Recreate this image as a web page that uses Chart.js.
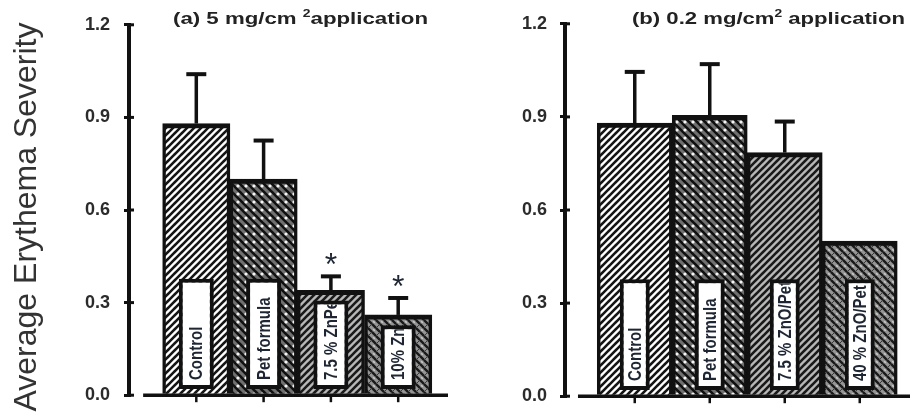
<!DOCTYPE html>
<html><head><meta charset="utf-8">
<script src="https://cdn.jsdelivr.net/npm/chart.js@4.4.1/dist/chart.umd.min.js"></script>
<style>
html,body{margin:0;padding:0;background:#fff;}
#wrap{position:relative;width:910px;height:420px;overflow:hidden;background:#fff;}
canvas{position:absolute;top:0;}
#cL{left:0;} #cR{left:455px;}
</style></head><body>
<div id="wrap"><canvas id="cL" width="455" height="420"></canvas><canvas id="cR" width="455" height="420"></canvas></div>
<script>
// ---- data ----
const categoriesA = ['Control', 'Pet formula', '7.5 % ZnPet', '10% ZnPet'];
const categoriesB = ['Control', 'Pet formula', '7.5 % ZnO/Pet', '40 % ZnO/Pet'];
const positions = [1, 2, 3, 4];
const severityA = [0.88, 0.70, 0.34, 0.26];
const errorA = [0.16, 0.125, 0.045, 0.055];
const marksA = ['', '', '*', '*'];
const severityB = [0.88, 0.905, 0.785, 0.50];
const errorB = [0.165, 0.165, 0.10, 0];
const marksB = ['', '', '', ''];
const yTicks = [0, 0.3, 0.6, 0.9, 1.2];
const titleA = ['(a) 5 mg/cm ', '2', 'application'];
const titleB = ['(b) 0.2 mg/cm', '2', ' application'];
const yLabel = 'Average Erythema Severity';

Chart.defaults.font.family = "'Liberation Sans', Arial, sans-serif";

function makePattern(s, bg, lines, dots) {
  const c = document.createElement('canvas');
  c.width = s; c.height = s;
  const g = c.getContext('2d');
  g.fillStyle = bg; g.fillRect(0, 0, s, s);
  lines.forEach(l => {
    g.strokeStyle = l.color; g.lineWidth = l.w; g.lineCap = 'square';
    g.beginPath();
    for (const k of [-s, 0, s]) {
      if (l.dir === '/') { g.moveTo(k, s); g.lineTo(k + s, 0); }
      else { g.moveTo(k, 0); g.lineTo(k + s, s); }
    }
    g.stroke();
  });
  if (dots) {
    g.fillStyle = dots.color;
    dots.at.forEach(p => { g.beginPath(); g.arc(p[0], p[1], dots.r, 0, Math.PI * 2); g.fill(); });
  }
  return g.createPattern(c, 'repeat');
}
const patterns = [
  makePattern(7, '#ffffff', [{dir: '/', color: '#151515', w: 2.6}]),
  makePattern(8, '#707070', [{dir: '\\', color: '#101010', w: 2.6}], {color: '#f4f4f4', r: 1.6, at: [[6, 2]]}),
  makePattern(7, '#b8b8b8', [{dir: '/', color: '#1a1a1a', w: 2.6}]),
  makePattern(8, '#959595', [{dir: '\\', color: '#1a1a1a', w: 2.4}, {dir: '/', color: '#3a3a3a', w: 1.0}], {color: '#d0d0d0', r: 1.1, at: [[6, 2]]})
];

function drawTitle(ctx, parts, x, baseline, targetW) {
  const F = "bold 16px 'Liberation Sans', Arial, sans-serif";
  const FS = "bold 10px 'Liberation Sans', Arial, sans-serif";
  let w = 0;
  const ws = parts.map((t, i) => { ctx.font = i === 1 ? FS : F; const m = ctx.measureText(t).width; w += m; return m; });
  ctx.save();
  ctx.translate(x, baseline);
  ctx.scale(targetW / w, 1);
  ctx.fillStyle = '#222';
  ctx.textAlign = 'left'; ctx.textBaseline = 'alphabetic';
  let cx = 0;
  parts.forEach((t, i) => { ctx.font = i === 1 ? FS : F; ctx.fillText(t, cx, i === 1 ? -7 : 0); cx += ws[i]; });
  ctx.restore();
}

function makeChart(id, cfg) {
  const boxTop = cfg.vals.map(v => Math.min(0.377, v - 0.033));
  const decor = {
    id: 'decor',
    afterDatasetsDraw(chart) {
      const ctx = chart.ctx, ys = chart.scales.y, xs = chart.scales.x, ca = chart.chartArea;
      const boxes = chart.getDatasetMeta(0).data;
      const bars = chart.getDatasetMeta(1).data;
      ctx.save();
      // labels inside boxes
      boxes.forEach((el, i) => {
        const bw = 4;
        const l = el.x - el.width / 2 + bw, r = el.x + el.width / 2 - bw;
        const t = el.y + bw, b = el.base - bw;
        ctx.save();
        ctx.beginPath(); ctx.rect(l, t, r - l, b - t); ctx.clip();
        ctx.translate(el.x + 1, b - 5); ctx.rotate(-Math.PI / 2); ctx.scale(1, 1.25);
        ctx.font = "bold 15px 'Liberation Sans', Arial, sans-serif";
        ctx.fillStyle = '#1f2633'; ctx.textAlign = 'left'; ctx.textBaseline = 'middle';
        ctx.fillText(cfg.cats[i], 0, 0);
        ctx.restore();
      });
      // error bars and marks
      ctx.strokeStyle = '#111';
      bars.forEach((el, i) => {
        const e = cfg.errs[i];
        if (!e) return;
        const yTop = ys.getPixelForValue(cfg.vals[i] + e);
        ctx.lineWidth = 3.5; ctx.lineCap = 'butt';
        ctx.beginPath(); ctx.moveTo(el.x, el.y); ctx.lineTo(el.x, yTop); ctx.stroke();
        ctx.lineWidth = 4;
        ctx.beginPath(); ctx.moveTo(el.x - 10, yTop); ctx.lineTo(el.x + 10, yTop); ctx.stroke();
        if (cfg.marks[i]) {
          ctx.font = "32px 'Liberation Sans', Arial, sans-serif";
          ctx.fillStyle = '#1f2633'; ctx.textAlign = 'center'; ctx.textBaseline = 'alphabetic';
          ctx.fillText(cfg.marks[i], el.x, yTop - 1);
        }
      });
      // x axis line and ticks
      const y0 = ca.bottom;
      ctx.lineWidth = 3.5;
      ctx.beginPath(); ctx.moveTo(xs.getPixelForValue(cfg.axisStart), y0); ctx.lineTo(ca.right, y0); ctx.stroke();
      ctx.lineWidth = 2.5;
      bars.forEach(el => { ctx.beginPath(); ctx.moveTo(el.x, y0); ctx.lineTo(el.x, y0 + 7); ctx.stroke(); });
      // inner y tick stubs
      ctx.lineWidth = 3;
      ys.ticks.forEach(tk => {
        const py = ys.getPixelForValue(tk.value);
        ctx.beginPath(); ctx.moveTo(ca.left, py); ctx.lineTo(ca.left + 5, py); ctx.stroke();
      });
      ctx.restore();
    },
    afterDraw(chart) {
      const ctx = chart.ctx;
      drawTitle(ctx, cfg.title, cfg.titleX, 24, cfg.titleW);
      if (cfg.yLabel) {
        ctx.save();
        ctx.translate(36, 217); ctx.rotate(-Math.PI / 2);
        ctx.font = "32px 'Liberation Sans', Arial, sans-serif";
        ctx.fillStyle = '#333333'; ctx.textAlign = 'center'; ctx.textBaseline = 'alphabetic';
        ctx.fillText(cfg.yLabel, 0, 0);
        ctx.restore();
      }
    }
  };
  return new Chart(document.getElementById(id), {
    type: 'bar',
    data: {
      datasets: [
        {
          data: positions.map((x, i) => ({x: x, y: [0.02, boxTop[i]]})),
          backgroundColor: '#ffffff', borderColor: '#111', borderWidth: 4, borderSkipped: false,
          barPercentage: cfg.boxPct, categoryPercentage: 1, grouped: false, order: 0
        },
        {
          data: positions.map((x, i) => ({x: x, y: cfg.vals[i]})),
          backgroundColor: patterns, borderColor: '#111',
          borderWidth: {top: 5, left: 3.5, right: 3.5, bottom: 0},
          barPercentage: 1, categoryPercentage: 1, grouped: false, order: 1
        }
      ]
    },
    options: {
      responsive: false, animation: false, events: [],
      layout: {padding: cfg.padding},
      plugins: {legend: {display: false}, tooltip: {enabled: false}, title: {display: false}},
      scales: {
        x: {type: 'linear', display: false, offset: false, min: cfg.xMin, max: cfg.xMax,
            afterBuildTicks: s => { s.ticks = positions.map(v => ({value: v})); },
            grid: {display: false}},
        y: {
          min: 0, max: 1.2,
          afterBuildTicks: s => { s.ticks = yTicks.map(v => ({value: v})); },
          afterFit: s => { s.width = cfg.yWidth; },
          ticks: {callback: v => v.toFixed(1), color: '#2b2b2b', padding: cfg.tickPad,
                  font: {weight: 'bold', size: 18}},
          grid: {drawOnChartArea: false, drawTicks: true, tickLength: 5, color: '#111', lineWidth: 3},
          border: {display: true, color: '#111', width: 4}
        }
      }
    },
    plugins: [decor]
  });
}

makeChart('cL', {
  cats: categoriesA, vals: severityA, errs: errorA, marks: marksA,
  title: titleA, titleX: 173, titleW: 255, yLabel: yLabel,
  padding: {top: 17, bottom: 16, left: 0, right: 7},
  yWidth: 129, tickPad: 14, xMin: 0, xMax: 4.74, axisStart: 0.21, boxPct: 0.52
});
makeChart('cR', {
  cats: categoriesB, vals: severityB, errs: errorB, marks: marksB,
  title: titleB, titleX: 177, titleW: 273, yLabel: null,
  padding: {top: 19, bottom: 18, left: 0, right: 0},
  yWidth: 110, tickPad: 13, xMin: 0.07, xMax: 4.67, axisStart: 0.243, boxPct: 0.4
});
</script>
</body></html>
